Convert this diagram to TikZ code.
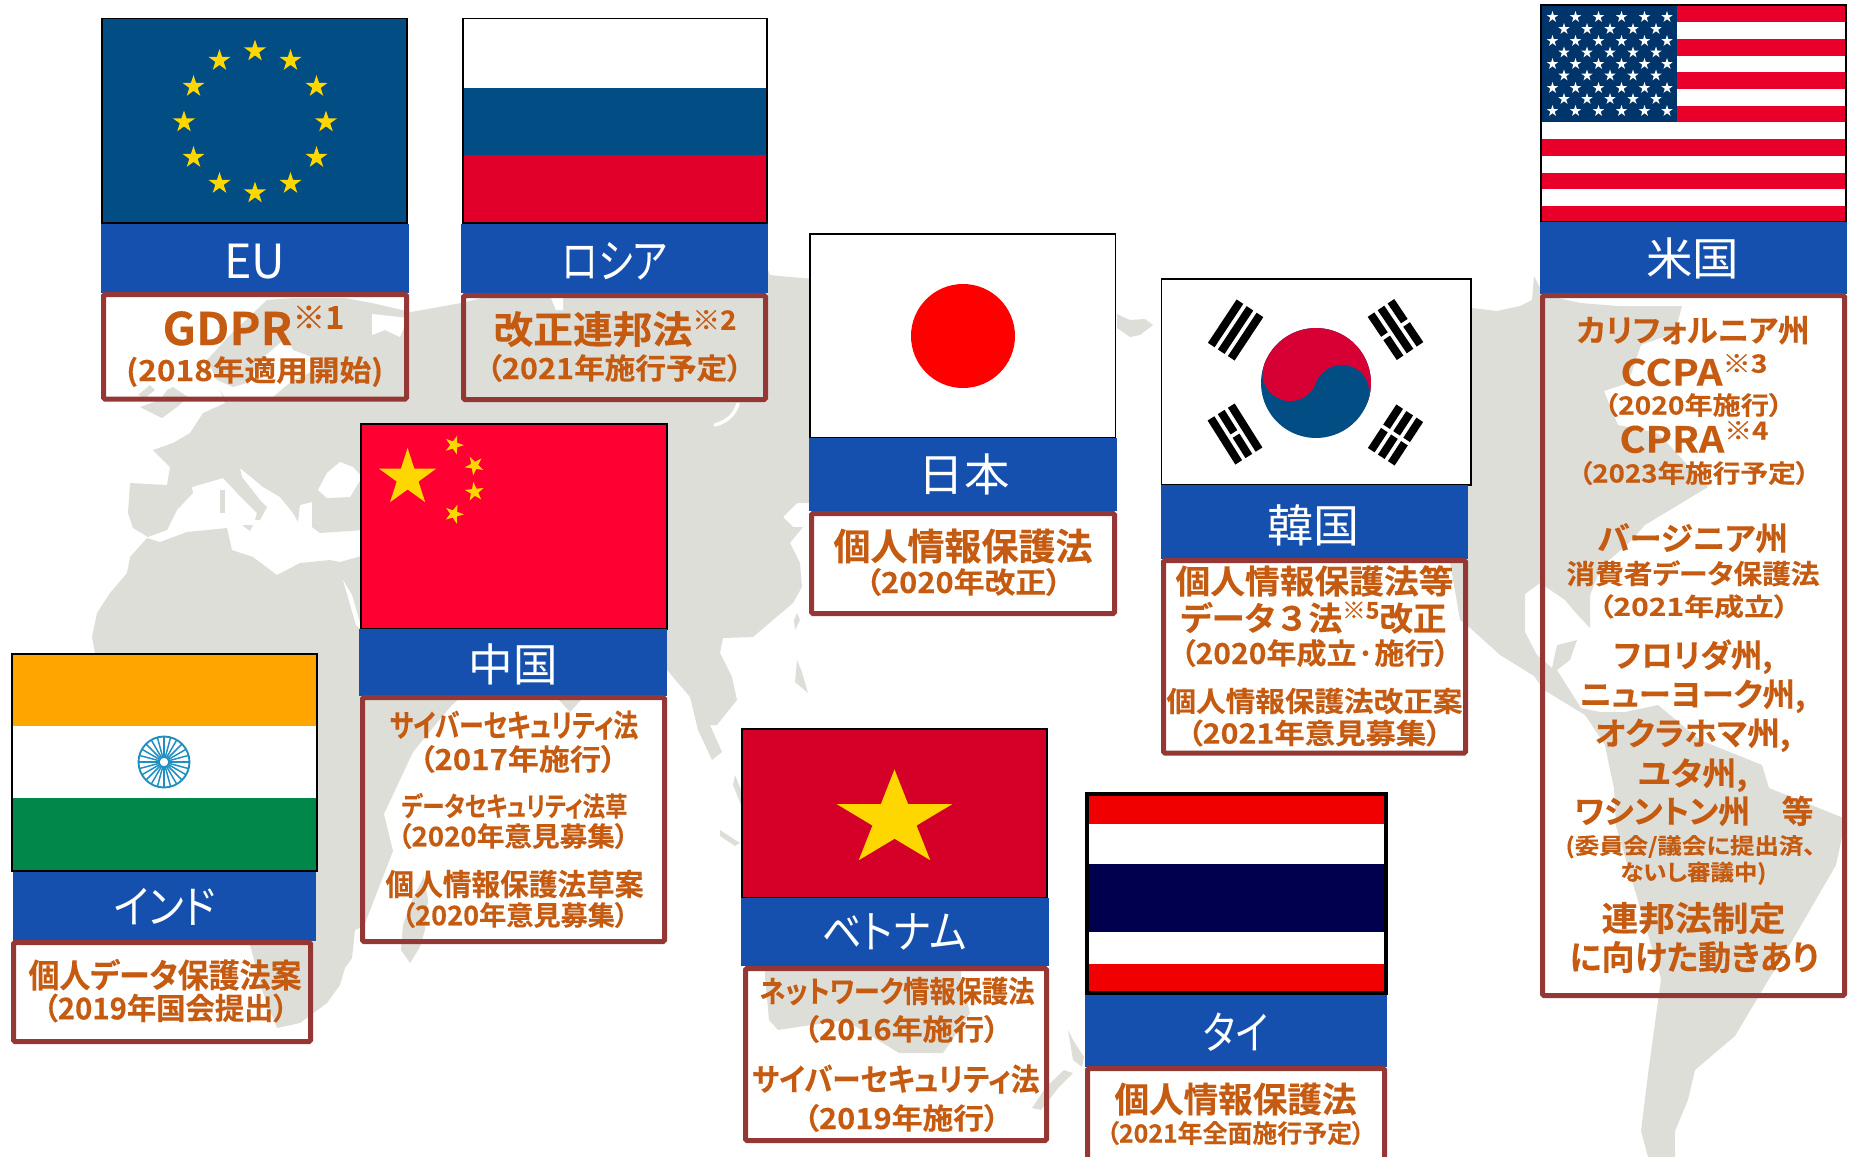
\documentclass[tikz,border=0pt]{standalone}
\usepackage{graphicx}
\usepackage{fontspec}
\setmainfont{Noto Sans CJK JP}[RawFeature=+palt]
\newfontfamily\hdrfont{Noto Sans CJK JP}[RawFeature=+palt]
\newfontfamily\lawfont{Noto Sans CJK JP}[RawFeature=+palt,UprightFont={* Bold},FakeBold=0.2]
\definecolor{mapc}{HTML}{DEDED8}
\definecolor{bandc}{HTML}{1650AE}
\definecolor{lawc}{HTML}{953735}
\definecolor{txtc}{HTML}{C55A11}
\definecolor{starc}{HTML}{FFD700}
\definecolor{bluec}{HTML}{024D84}
\definecolor{rured}{HTML}{E0002A}
\definecolor{cnred}{HTML}{FF0033}
\definecolor{vnred}{HTML}{D40028}
\definecolor{krred}{HTML}{D70035}
\definecolor{thred}{HTML}{F00000}
\definecolor{thnavy}{HTML}{00004F}
\definecolor{inor}{HTML}{FFA500}
\definecolor{ingr}{HTML}{02874B}
\definecolor{inbl}{HTML}{1E8FC0}
\definecolor{usred}{HTML}{E8002A}
\definecolor{usbl}{HTML}{00356B}
\newlength\fitl
\newcommand\fitline[3]{\pgfmathsetmacro\fsz{#1*0.75}\fontsize{\fsz pt}{\fsz pt}\selectfont\sbox0{#3}\setlength\fitl{\wd0}\pgfmathsetmacro\fitr{(#2+3)*0.75/\fitl}\scalebox{\fitr}[1]{\usebox0}}
\newcommand\lawline[6]{\node[lawtext] (#1) at (#2,{#3+0.38*#4}) {\lawfont\fitline{#4}{#5}{#6}};}
\newcommand\hdrline[6]{\node[hdrtext] (#1) at (#2,{#3+0.38*#4}) {\hdrfont\fitline{#4}{#5}{#6}};}
\newcommand\supm[1]{\raisebox{.36em}{\scalebox{.7}{#1}}}
\newcommand\mystar[5]{\fill[#5,shift={(#1,#2)},rotate=#4] (-90:#3) -- (-54:0.382*#3) -- (-18:#3) -- (18:0.382*#3) -- (54:#3) -- (90:0.382*#3) -- (126:#3) -- (162:0.382*#3) -- (198:#3) -- (234:0.382*#3) -- cycle;}
\newcommand\bandbox[4]{\fill[bandc] (#1,#2) rectangle (#3,#4);}
\newcommand\lawbox[4]{\draw[lawc,line width=3.75pt,rounded corners=1pt] ({#1+2.5},{#2+2.5}) rectangle ({#3-2.5},{#4-2.5});}
\newcommand\flagframe[4]{\draw[black,line width=1.3pt] (#1,#2) rectangle (#3,#4);}
\newcommand\trigrow[2]{\ifnum#2=0 \fill[black] (-26,{#1-4}) rectangle (26,{#1+4});\else \fill[black] (-26,{#1-4}) rectangle (-2,{#1+4}); \fill[black] (2,{#1-4}) rectangle (26,{#1+4});\fi}
\newcommand\trig[6]{\begin{scope}[shift={(#1,#2)},rotate=#3]\trigrow{-12}{#4}\trigrow{0}{#5}\trigrow{12}{#6}\end{scope}}
\tikzset{
  lawtext/.style={anchor=base,inner sep=0pt,outer sep=0pt,text=txtc},
  hdrtext/.style={anchor=base,inner sep=0pt,outer sep=0pt,text=white}
}
\begin{document}
\begin{tikzpicture}[x=0.75pt,y=-0.75pt]
\useasboundingbox (0,0) rectangle (1850,1157);
\clip (0,0) rectangle (1850,1157);
% ---------- world map ----------
\fill[mapc,line join=round] (411,312) -- (372,303) -- (345,298) -- (293,298) -- (267,300) -- (230,335) -- (207,360) -- (217,380) -- (233,387) -- (247,383) -- (260,360) -- (287,337) -- (293,350) -- (320,360) -- (323,367) -- (293,380) -- (273,397) -- (260,400) -- (227,402) -- (220,390) -- (225,403) -- (203,413) -- (190,433) -- (173,443) -- (153,450) -- (170,467) -- (167,485) -- (130,483) -- (128,513) -- (133,528) -- (148,537) -- (167,530) -- (177,510) -- (193,493) -- (192,487) -- (223,478) -- (237,493) -- (257,513) -- (255,520) -- (260,520) -- (267,507) -- (260,500) -- (242,477) -- (240,468) -- (263,487) -- (280,497) -- (293,513) -- (298,522) -- (300,505) -- (312,502) -- (312,527) -- (320,533) -- (365,530) -- (365,555) -- (340,562) -- (330,560) -- (300,563) -- (277,575) -- (253,557) -- (232,550) -- (227,528) -- (187,532) -- (160,542) -- (147,538) -- (130,557) -- (127,573) -- (110,593) -- (97,613) -- (92,637) -- (100,680) -- (150,760) -- (230,790) -- (240,850) -- (250,945) -- (262,990) -- (277,1028) -- (300,1023) -- (327,1003) -- (340,985) -- (345,968) -- (352,958) -- (355,930) -- (364,926) -- (393,851) -- (384,814) -- (413,752) -- (451,706) -- (480,680) -- (550,690) -- (570,712) -- (590,690) -- (667,670) -- (690,697) -- (698,730) -- (712,760) -- (722,752) -- (710,725) -- (717,725) -- (737,700) -- (732,677) -- (720,653) -- (723,638) -- (753,637) -- (793,603) -- (802,587) -- (800,563) -- (790,543) -- (803,527) -- (793,527) -- (783,517) -- (797,503) -- (815,503) -- (815,279) -- (790,277) -- (770,275) -- (768,270) -- (520,285) -- (490,296) -- (461,303) -- cycle;
% seas and inlets
\fill[white] (318,490) -- (327,473) -- (340,462) -- (353,467) -- (362,477) -- (350,497) -- (327,498) -- cycle;
\fill[white] (343,580) -- (352,595) -- (362,630) -- (356,625) -- cycle;
\fill[white] (372,314) -- (408,318) -- (400,337) -- (385,330) -- (372,335) -- cycle;
\fill[white] (551,298) -- (563,298) -- (563,310) -- (556,310) -- cycle;
\draw[white,line width=2.6pt,line cap=round] (715,425) .. controls (728,421) and (734,415) .. (738,404);
% islands
\fill[mapc] (242,525) -- (253,525) -- (250,531) -- cycle;
\fill[mapc] (220,490) -- (225,490) -- (225,513) -- (220,513) -- cycle;
\fill[mapc] (140,407) -- (160,400) -- (167,390) -- (173,387) -- (188,397) -- (177,407) -- (162,418) -- cycle;
\fill[mapc] (138,395) -- (150,385) -- (155,390) -- (145,398) -- cycle;
\fill[mapc] (424,876) -- (428,900) -- (425,930) -- (420,947) -- (410,963) -- (401,950) -- (403,925) -- (412,900) -- cycle;
\fill[mapc] (797,613) -- (800,620) -- (795,630) -- (794,620) -- cycle;
\fill[mapc] (797,660) -- (802,672) -- (808,693) -- (795,682) -- cycle;
\fill[mapc] (720,830) -- (740,843) -- (735,846) -- (720,836) -- cycle;
\fill[mapc] (735,775) -- (741,790) -- (741,805) -- (733,785) -- cycle;
\fill[mapc] (1117,314) -- (1130,320) -- (1145,319) -- (1153,325) -- (1140,335) -- (1130,337) -- (1117,328) -- cycle;
% Australia and New Zealand
\fill[mapc] (765,960) -- (765,977) -- (769,1020) -- (778,1030) -- (845,1020) -- (899,1053) -- (943,1053) -- (952,1040) -- (970,1013) -- (961,977) -- (961,960) -- cycle;
\fill[mapc] (1068,1030) -- (1073,1040) -- (1084,1057) -- (1082,1067) -- (1073,1060) -- cycle;
\fill[mapc] (1073,1073) -- (1059,1087) -- (1041,1110) -- (1032,1108) -- (1046,1087) -- (1064,1070) -- cycle;
% the Americas
\fill[mapc,line join=round] (1472,308) -- (1497,311) -- (1520,306) -- (1532,300) -- (1534,276) -- (1544,295) -- (1581,303) -- (1618,306) -- (1682,306) -- (1675,333) -- (1641,345) -- (1628,383) -- (1604,391) -- (1618,425) -- (1658,433) -- (1708,487) -- (1645,525) -- (1628,544) -- (1601,567) -- (1590,595) -- (1590,628) -- (1575,612) -- (1565,600) -- (1540,583) -- (1525,594) -- (1525,632) -- (1537,655) -- (1552,668) -- (1557,645) -- (1577,640) -- (1570,660) -- (1557,670) -- (1581,708) -- (1600,712) -- (1625,712) -- (1658,705) -- (1700,740) -- (1762,765) -- (1769,788) -- (1846,819) -- (1836,865) -- (1792,941) -- (1769,979) -- (1735,1036) -- (1695,1070) -- (1688,1100) -- (1675,1131) -- (1675,1157) -- (1648,1157) -- (1641,1131) -- (1648,1074) -- (1661,979) -- (1616,826) -- (1614,788) -- (1610,770) -- (1605,745) -- (1585,715) -- (1544,690) -- (1534,676) -- (1500,655) -- (1468,626) -- (1460,620) -- (1450,562) -- (1450,500) -- cycle;
% ---------- EU ----------
\fill[bluec] (102,18.4) rectangle (407,223);
\flagframe{102}{18.4}{407}{223}
\foreach \a in {0,30,...,330}{\mystar{{255+71*cos(\a)}}{{122+71*sin(\a)}}{11.5}{0}{starc}}
\bandbox{101}{224}{409}{293}
\lawbox{101}{292}{409}{401.5}
\hdrline{eun}{254.5}{261}{47}{58}{EU}
\lawline{eua}{253.5}{328}{45}{179}{GDPR\supm{※1}}
\lawline{eub}{254.7}{370}{29}{254}{(2018年適用開始)}
% ---------- Russia ----------
\fill[white] (463,18.4) rectangle (767,88);
\fill[bluec] (463,88) rectangle (767,155);
\fill[rured] (463,155) rectangle (767,223);
\flagframe{463}{18.4}{767}{223}
\bandbox{461}{224}{768}{293}
\lawbox{461}{293}{768}{402}
\hdrline{run}{615}{261}{47}{102}{ロシア}
\lawline{rua}{615}{329}{38}{240}{改正連邦法\supm{※2}}
\lawline{rub}{614.5}{368}{29}{253}{（2021年施行予定）}
% ---------- Japan ----------
\fill[white] (810,234) rectangle (1115.5,438);
\flagframe{810}{234}{1115.5}{438}
\fill[red] (963,336) circle[radius=52];
\bandbox{809}{438}{1117}{511}
\lawbox{809}{511}{1117}{616}
\hdrline{jpn}{964}{474}{45}{88}{日本}
\lawline{jpa}{963}{546}{37}{256}{個人情報保護法}
\lawline{jpb}{963.5}{582}{29}{193}{（2020年改正）}
% ---------- Korea ----------
\fill[white] (1161.5,279) rectangle (1471,485);
\flagframe{1161.5}{279}{1471}{485}
\begin{scope}[shift={(1316,383)},rotate=-20]
\fill[bluec] (0,0) circle[radius=55];
\fill[krred] (-55,0) arc[start angle=180,end angle=360,radius=55] -- cycle;
\fill[krred] (-27.5,0) circle[radius=27.5];
\fill[bluec] (27.5,0) circle[radius=27.5];
\end{scope}
\trig{1235.6}{330}{56.5}{0}{0}{0}
\trig{1395.5}{329.5}{-56}{1}{0}{1}
\trig{1235}{434}{-57.8}{0}{1}{0}
\trig{1395.5}{435}{56.8}{1}{1}{1}
\bandbox{1161}{485}{1468}{559}
\lawbox{1161}{558}{1468}{755.5}
\hdrline{krn}{1313.7}{525}{45}{89}{韓国}
\lawline{kra}{1314.5}{581}{33}{275}{個人情報保護法等}
\lawline{krb}{1313.5}{618}{33}{263}{データ{\addfontfeature{RawFeature=-palt}３}法\supm{※5}改正}
\lawline{krc}{1315}{653}{29}{266}{（2020年成立·施行）}
\lawline{krd}{1314.5}{701}{28}{293}{個人情報保護法改正案}
\lawline{kre}{1314.5}{733}{28}{251}{（2021年意見募集）}
% ---------- USA ----------
\foreach \i in {0,1,...,12}{
  \pgfmathsetmacro\yy{5.5+16.7*\i}
  \pgfmathparse{int(mod(\i,2))}
  \ifnum\pgfmathresult=0 \fill[usred] (1541,\yy) rectangle (1846,{\yy+16.7});\else \fill[white] (1541,\yy) rectangle (1846,{\yy+16.7});\fi
}
\fill[usbl] (1541,5.5) rectangle (1677,122);
\foreach \yy in {17,41,64,88,111}{\foreach \xx in {1552.5,1575.5,1598.5,1621.5,1644.5,1667}{\mystar{\xx}{\yy}{6}{0}{white}}}
\foreach \yy in {29,52.5,75.5,99}{\foreach \xx in {1564,1587,1610,1633,1656}{\mystar{\xx}{\yy}{6}{0}{white}}}
\flagframe{1541}{5}{1846}{222}
\bandbox{1540}{222}{1847}{294}
\lawbox{1540}{293}{1847}{998}
\hdrline{usn}{1692.5}{258}{45}{90}{米国}
\lawline{usa}{1693}{330}{31}{230}{カリフォルニア州}
\lawline{usb}{1694}{372}{36}{144}{CCPA\supm{※3}}
\lawline{usc}{1693.5}{405}{25}{176}{（2020年施行）}
\lawline{usd}{1694}{439}{36}{146}{CPRA\supm{※4}}
\lawline{use}{1694}{473}{25}{228}{（2023年施行予定）}
\lawline{usf}{1692.7}{538}{32}{187.5}{バージニア州}
\lawline{usg}{1693}{573.5}{27}{250}{消費者データ保護法}
\lawline{ush}{1693.7}{606.4}{25}{187.5}{（2021年成立）}
\lawline{usi}{1693}{655}{32}{156}{フロリダ州,}
\lawline{usj}{1692.5}{694}{32}{223}{ニューヨーク州,}
\lawline{usk}{1692.7}{733}{32}{192.5}{オクラホマ州,}
\lawline{usl}{1692.7}{773}{32}{106.5}{ユタ州,}
\lawline{usm}{1694}{811}{32}{236}{ワシントン州　等}
\lawline{uso}{1690.5}{845.5}{22}{247}{(委員会/議会に提出済、}
\lawline{usp}{1693.3}{872}{22}{143}{ないし審議中)}
\lawline{usq}{1693.5}{918}{34}{181}{連邦法制定}
\lawline{usr}{1694}{957}{34}{246}{に向けた動きあり}
% ---------- China ----------
\fill[cnred] (361,424) rectangle (667,629);
\flagframe{361}{424}{667}{629}
\mystar{407.6}{478}{30}{0}{starc}
\mystar{454}{445}{10}{125}{starc}
\mystar{474.5}{465.6}{10}{100}{starc}
\mystar{474.5}{492}{10}{78}{starc}
\mystar{454}{514}{10}{52}{starc}
\bandbox{359}{629}{667}{696}
\lawbox{360}{695}{667}{944}
\hdrline{cnn}{513}{664}{45}{86}{中国}
\lawline{cna}{514}{725}{31}{245.5}{サイバーセキュリティ法}
\lawline{cnb}{517.7}{759}{29}{194.5}{（2017年施行）}
\lawline{cnc}{514.5}{806}{27}{223}{データセキュリティ法草}
\lawline{cnd}{513.2}{836}{27}{228}{（2020年意見募集）}
\lawline{cne}{514.5}{884}{30}{255}{個人情報保護法草案}
\lawline{cnf}{515}{915}{27}{224}{（2020年意見募集）}
% ---------- India ----------
\fill[inor] (12,654) rectangle (317,726);
\fill[white] (12,726) rectangle (317,798);
\fill[ingr] (12,798) rectangle (317,871);
\flagframe{12}{654}{317}{871}
\draw[inbl,line width=1.4pt] (164,762) circle[radius=25.5];
\draw[inbl,line width=1pt] (164,762) circle[radius=5];
\foreach \a in {0,15,...,345}{\draw[inbl,line width=1.1pt] ({164+5*cos(\a)},{762+5*sin(\a)}) -- ({164+25*cos(\a)},{762+25*sin(\a)});}
\bandbox{13}{872}{316}{941}
\lawbox{11}{940}{313}{1044}
\hdrline{inn}{164.5}{906}{45}{99}{インド}
\lawline{ina}{165}{975}{33}{270}{個人データ保護法案}
\lawline{inb}{165.6}{1008}{30}{242}{（2019年国会提出）}
% ---------- Vietnam ----------
\fill[vnred] (742,729) rectangle (1047,898);
\flagframe{742}{729}{1047}{898}
\fill[starc,shift={(894.5,819.6)},yscale=.825] (-90:60.8) -- (-54:23.2) -- (-18:60.8) -- (18:23.2) -- (54:60.8) -- (90:23.2) -- (126:60.8) -- (162:23.2) -- (198:60.8) -- (234:23.2) -- cycle;
\bandbox{741}{898}{1049}{966}
\lawbox{743}{966}{1049}{1143}
\hdrline{vnn}{894.5}{931}{45}{141}{ベトナム}
\lawline{vna}{897}{991}{30}{272}{ネットワーク情報保護法}
\lawline{vnb}{901.5}{1029}{29}{193}{（2016年施行）}
\lawline{vnc}{895.7}{1079}{31}{284.5}{サイバーセキュリティ法}
\lawline{vnd}{901.5}{1118}{29}{193}{（2019年施行）}
% ---------- Thailand ----------
\fill[white] (1087,794) rectangle (1386,993);
\fill[thred] (1087,794) rectangle (1386,824);
\fill[thnavy] (1087,864) rectangle (1386,932);
\fill[thred] (1087,964) rectangle (1386,993);
\draw[black,line width=3pt] (1087,794) rectangle (1386,993);
\bandbox{1085}{995}{1387}{1067}
\lawbox{1085}{1066}{1387}{1175}
\hdrline{thn}{1235.7}{1032}{45}{62}{タイ}
\lawline{tha}{1235.5}{1099}{35}{239}{個人情報保護法}
\lawline{thb}{1235.5}{1133}{25}{255}{（2021年全面施行予定）}
\end{tikzpicture}
\end{document}
